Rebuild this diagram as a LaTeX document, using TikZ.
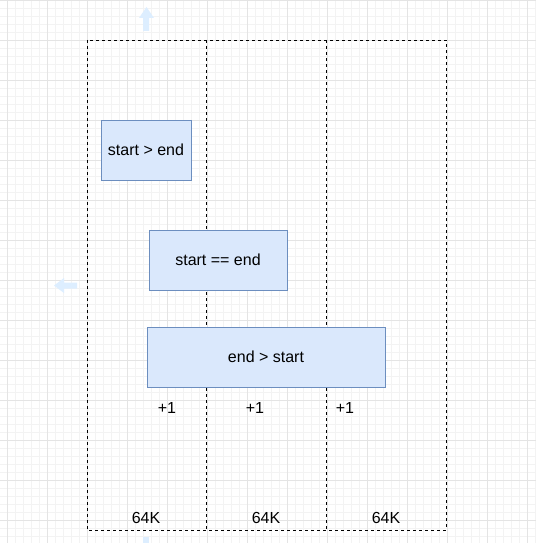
\documentclass[tikz,border=0pt]{standalone}
\usepackage{fontspec}
\setmainfont{Liberation Sans}
\usetikzlibrary{positioning}
\definecolor{colfill}{HTML}{DAE8FC}
\definecolor{colline}{HTML}{6C8EBF}
\definecolor{colminor}{HTML}{F3F3F3}
\definecolor{colmajor}{HTML}{E4E4E4}
\definecolor{colhint}{HTML}{DDEEFF}
\tikzset{%
     minorgrid/.style = { colminor, line width=0.6pt, step=8pt },
     majorgrid/.style = { colmajor, line width=0.8pt, step=40pt },
        frame/.style = { black, line width=0.9pt, dash pattern=on 3pt off 3pt },
       blockbox/.style = { fill=colfill, draw=colline, line width=0.9pt },
        label/.style = { black, font=\fontsize{16}{19}\selectfont },
         hint/.style = { fill=colhint, draw=none }
}

\begin{document}
\begin{tikzpicture}[x=1pt,y=-1pt]

  \useasboundingbox (0,0) rectangle (536,543);
  \fill[white] (0,0) rectangle (536,543);

  % background grid
  \begin{scope}[xshift=7pt]
    \draw[minorgrid] (-7,0) grid (529,543);
    \draw[majorgrid] (-7,0) grid (529,543);
  \end{scope}

  % faint hover arrows
  \fill[hint] (143,31) -- (143,18) -- (139,18) -- (146.5,7) -- (154,18) -- (149,18) -- (149,31) -- cycle;
  \fill[hint] (77,282.5) -- (64,282.5) -- (64,278) -- (54,285.5) -- (64,293) -- (64,288.5) -- (77,288.5) -- cycle;
  \fill[hint] (143,537) -- (149,537) -- (149,550) -- (143,550) -- cycle;

  % memory columns
  \draw[frame] (87,40) rectangle (446,530);
  \draw[frame] (206,40) -- (206,530);
  \draw[frame] (326,40) -- (326,530);

  % ranges
  \draw[blockbox] (101,120) rectangle (191,180) node[pos=.5, label] (gt) {start > end};
  \draw[blockbox] (149,230) rectangle (287,290) node[pos=.5, label] (eq) {start == end};
  \draw[blockbox] (147,327) rectangle (385,387) node[pos=.5, label] (lt) {end > start};

  % counters
  \node[label] (incone)   at (167,408) {+1};
  \node[label] (inctwo)   at (255,408) {+1};
  \node[label] (incthree) at (345,408) {+1};

  % column sizes
  \node[label] (sizeone)   at (146,518) {64K};
  \node[label] (sizetwo)   at (266,518) {64K};
  \node[label] (sizethree) at (386,518) {64K};

\end{tikzpicture}
\end{document}
